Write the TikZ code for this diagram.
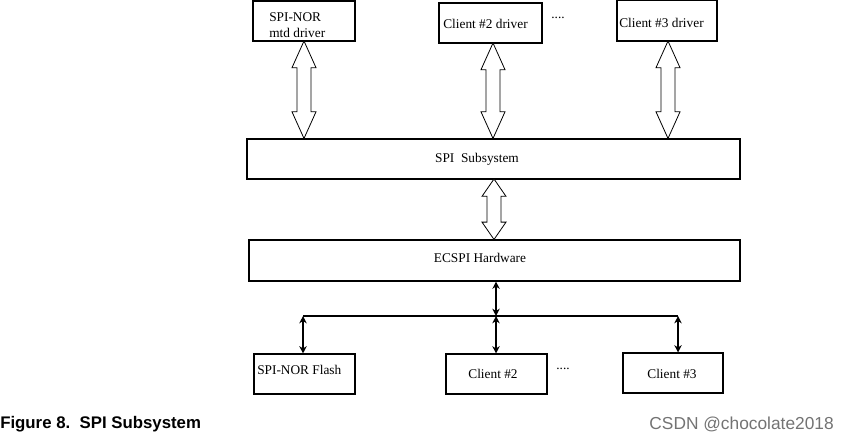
\documentclass[tikz,border=0pt]{standalone}
\usepackage{fontspec}
\setmainfont{Liberation Serif}
\newfontfamily\capfont{Liberation Sans}
\usetikzlibrary{calc,fit,arrows.meta}
\newcommand{\hollowarrow}[3]{%
 \draw[hollow] let \p1=(#1), \p2=(#2) in
  (\x1,\y1) -- (\x1+9pt,\y1-#3) -- (\x1+5.25pt,\y1-#3) -- (\x1+5.25pt,\y2+#3) -- (\x1+9pt,\y2+#3)
  -- (\x1,\y2) -- (\x1-9pt,\y2+#3) -- (\x1-5.25pt,\y2+#3) -- (\x1-5.25pt,\y1-#3) -- (\x1-9pt,\y1-#3) -- cycle;}
\begin{document}
\begin{tikzpicture}[x=0.75pt,y=-0.75pt,
 box/.style={draw, line width=0.8pt, inner sep=0pt},
 txt/.style={font=\fontsize{10}{12}\selectfont, inner sep=0pt},
 hollow/.style={draw, line width=0.6pt, fill=white},
 link/.style={line width=1pt, {Stealth[length=5.5pt,width=5.5pt]}-{Stealth[length=5.5pt,width=5.5pt]}}]
\useasboundingbox (0,0) rectangle (848,437);
% boxes
\node[box, fit={(253,1) (355,41)}] (nor) {};
\node[box, fit={(439,3) (542,43)}] (c2d) {};
\node[box, fit={(617,0.5) (717,41)}] (c3d) {};
\node[box, fit={(247,139) (740,179)}] (spi) {};
\node[box, fit={(249,240) (740,281)}] (ecspi) {};
\node[box, fit={(254,354) (355,394)}] (nf) {};
\node[box, fit={(446,354) (547,394)}] (c2) {};
\node[box, fit={(623,353) (723,393)}] (c3) {};
% texts
\node[txt, anchor=west, align=left] (nort) at (269,25) {SPI-NOR\\mtd driver};
\node[txt, anchor=west] (c2dt) at (443,24) {Client \#2 driver};
\node[txt, anchor=west] (c3dt) at (619,23) {Client \#3 driver};
\node[txt] (dots1) at (558,18) {....};
\node[txt] (spit) at (477,159) {SPI\ \ Subsystem};
\node[txt] (ecspit) at (480,258) {ECSPI Hardware};
\node[txt, anchor=west] (nft) at (257,370) {SPI-NOR Flash};
\node[txt] (c2t) at (493,374) {Client \#2};
\node[txt] (c3t) at (672,374) {Client \#3};
\node[txt] (dots2) at (563,369) {....};
% hollow arrows
\coordinate (a1) at (304,41);
\coordinate (a2) at (493,43);
\coordinate (a3) at (668,41);
\coordinate (a4) at (494,179);
\hollowarrow{a1}{a1 |- spi.north}{20pt}
\hollowarrow{a2}{a2 |- spi.north}{20pt}
\hollowarrow{a3}{a3 |- spi.north}{20pt}
\hollowarrow{a4}{a4 |- ecspi.north}{13pt}
% bus
\coordinate (bl) at (303,316);
\coordinate (bm) at (496,316);
\coordinate (br) at (678,316);
\draw[line width=1pt] (bl) -- (br);
\draw[link] (bm |- ecspi.south) -- (bm);
\draw[link] (bl) -- (bl |- nf.north);
\draw[link] (bm) -- (bm |- c2.north);
\draw[link] (br) -- (br |- c3.north);
% caption
\node[anchor=west, font=\capfont\bfseries\fontsize{12.6}{14}\selectfont, inner sep=0pt] (cap) at (0,424) {Figure 8.\ \ SPI Subsystem};
\node[anchor=east, text=black!55, font=\capfont\fontsize{13}{15}\selectfont, inner sep=0pt] (wm) at (834,424) {CSDN @chocolate2018};
\end{tikzpicture}
\end{document}
